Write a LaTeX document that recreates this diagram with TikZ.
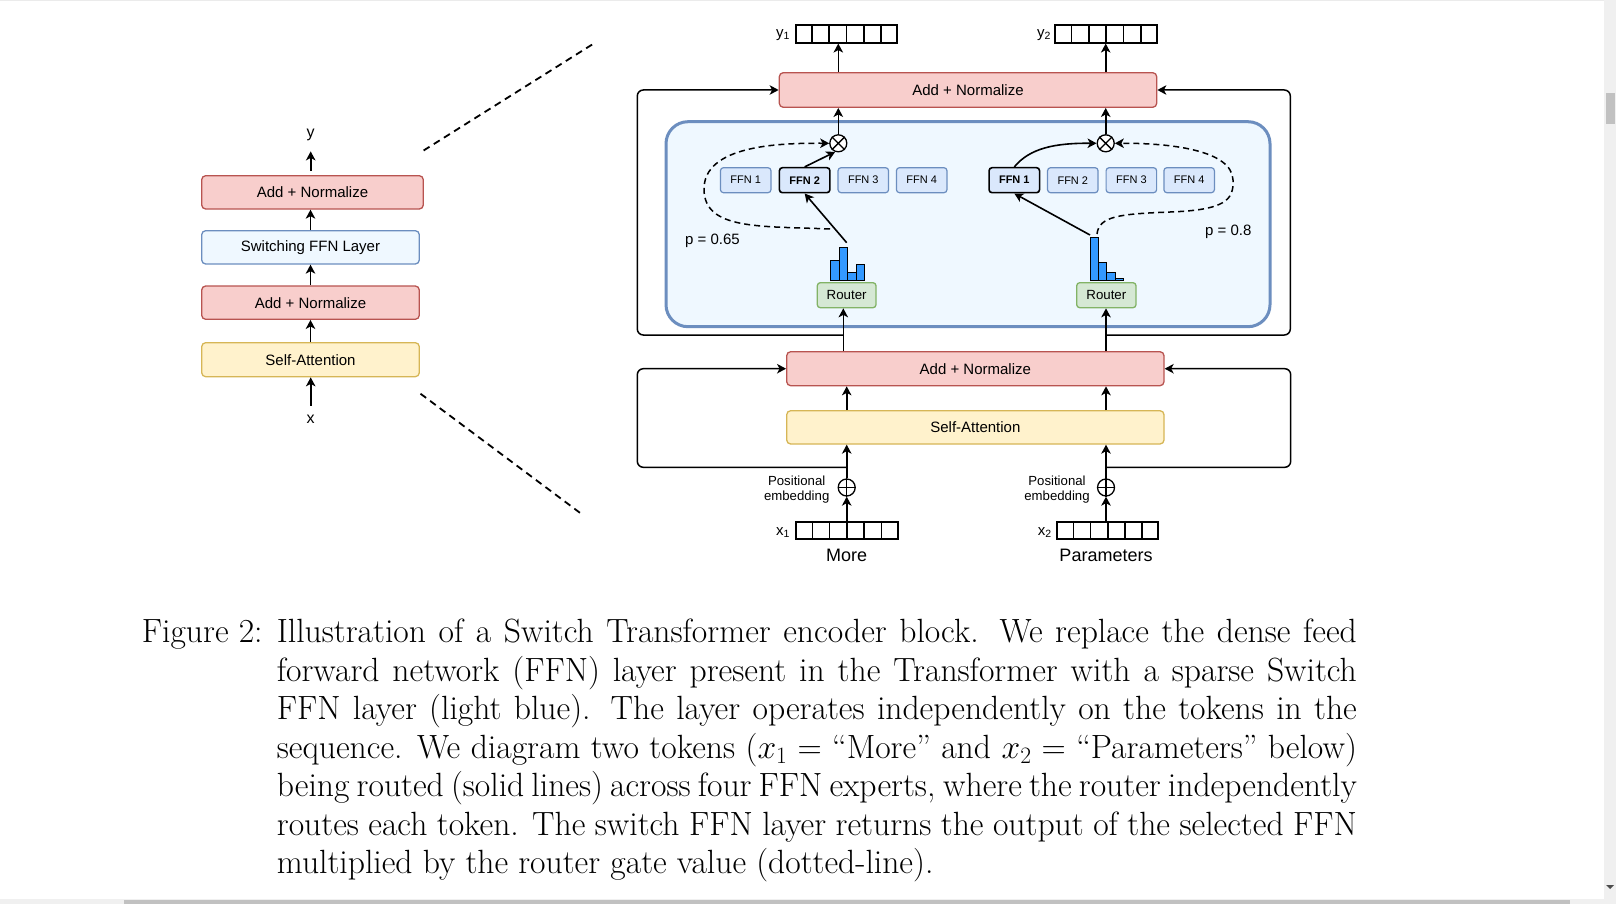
\RequirePackage{fix-cm}
\documentclass[tikz,border=0pt]{standalone}
\usepackage{fontspec}
\newfontfamily\dia{Liberation Sans}
\usetikzlibrary{arrows.meta,calc}
\definecolor{redF}{HTML}{F8CECC}\definecolor{redD}{HTML}{B85450}
\definecolor{bluF}{HTML}{DAE8FC}\definecolor{bluD}{HTML}{6C8EBF}
\definecolor{bluL}{HTML}{EFF8FF}
\definecolor{yelF}{HTML}{FFF2CC}\definecolor{yelD}{HTML}{D6B656}
\definecolor{grnF}{HTML}{D5E8D4}\definecolor{grnD}{HTML}{82B366}
\definecolor{histC}{HTML}{3399FF}
\definecolor{sbTrack}{HTML}{F0F0F0}\definecolor{sbThumb}{HTML}{C1C1C1}
\definecolor{topLine}{HTML}{EBEBEB}
\newcommand{\capfont}{\fontsize{33.6}{38.5}\selectfont}
\begin{document}
\begin{tikzpicture}[x=1pt,y=-1pt,
  box/.style={draw, line width=1.3pt, rounded corners=4pt, inner sep=0pt, font=\dia\fontsize{15}{18}\selectfont},
  redbox/.style={box, fill=redF, draw=redD},
  yelbox/.style={box, fill=yelF, draw=yelD},
  lbluebox/.style={box, fill=bluL, draw=bluD},
  ffn/.style={draw=bluD, fill=bluF, line width=1.2pt, rounded corners=3pt, minimum width=50.5pt, minimum height=25pt, inner sep=0pt, font=\dia\fontsize{11}{13}\selectfont},
  ffnsel/.style={ffn, draw=black, line width=1.6pt, font=\dia\bfseries\fontsize{11}{13}\selectfont},
  router/.style={draw=grnD, fill=grnF, line width=1.3pt, rounded corners=3pt, minimum height=25pt, inner sep=0pt, font=\dia\fontsize{13.3}{15}\selectfont},
  opcirc/.style={circle, draw, fill=white, line width=1.3pt, minimum size=17pt, inner sep=0pt},
  arrbox/.style={draw, fill=white, line width=1.8pt, inner sep=0pt, minimum height=17.6pt},
  lab/.style={inner sep=0pt, font=\dia\fontsize{16}{18}\selectfont},
  tlab/.style={inner sep=0pt, font=\dia\fontsize{15}{18}\selectfont},
  pe/.style={inner sep=0pt, align=center, font=\dia\fontsize{13.2}{15.3}\selectfont},
  word/.style={inner sep=0pt, font=\dia\fontsize{18}{20}\selectfont},
  tip/.style={-{Stealth[length=9pt,width=9.5pt,inset=2.5pt]}},
  arr/.style={line width=1.6pt, tip},
  res/.style={line width=1.5pt, rounded corners=6pt, tip},
  darr/.style={line width=1.5pt, dash pattern=on 6pt off 4pt, tip},
  zoomline/.style={line width=1.8pt, dash pattern=on 7pt off 5pt},
  histbar/.style={draw=black, line width=1pt, fill=histC}
]
\useasboundingbox (0,0) rectangle (1616,904);
\fill[white] (0,0) rectangle (1616,904);
\fill[topLine] (0,0) rectangle (1604,1.5);

% ---------- left column ----------
\node[redbox, minimum width=221.6pt, minimum height=33.3pt] (L4) at (312.5,192.35) {Add + Normalize};
\node[lbluebox, minimum width=217.6pt, minimum height=33.3pt] (L3) at (310.5,247.35) {Switching FFN Layer};
\node[redbox, minimum width=217.6pt, minimum height=33.3pt] (L2) at (310.5,302.65) {Add + Normalize};
\node[yelbox, minimum width=217.6pt, minimum height=34pt] (L1) at (310.5,359.7) {Self-Attention};
\node[lab] (ylab) at (310.7,135.3) {y};
\node[lab] (xlab) at (310.7,419) {x};
\draw[arr, shorten <=9pt] (xlab.north) -- (L1.south -| xlab);
\draw[arr] (L1.north) -- (L2.south);
\draw[arr] (L2.north) -- (L3.south);
\draw[arr] (L3.north) -- (L3.north |- L4.south);
\draw[arr, shorten <=4pt, shorten >=10pt] (L4.north -| ylab) -- (ylab.south);

% zoom lines
\coordinate (zA1) at (423.6,150.5); \coordinate (zA2) at (595.7,42.3);
\coordinate (zB1) at (420.5,393.7); \coordinate (zB2) at (583.3,515.3);
\draw[zoomline] (zA1) -- (zA2);
\draw[zoomline] (zB1) -- (zB2);

% ---------- right diagram ----------
\node[draw=bluD, fill=bluL, line width=3pt, rounded corners=22pt, minimum width=604pt, minimum height=205pt, inner sep=0pt] (SW) at (968,224.2) {};

\node[redbox, minimum width=377.4pt, minimum height=34.6pt] (AN3) at (968,90) {Add + Normalize};
\node[redbox, minimum width=377.3pt, minimum height=34pt] (AN2) at (975.35,368.7) {Add + Normalize};
\node[yelbox, minimum width=377.3pt, minimum height=33.3pt] (SA) at (975.35,427.35) {Self-Attention};

% experts
\node[ffn] (F11) at (745.7,180.2) {FFN 1};
\node[ffnsel] (F12) at (804.65,180.2) {FFN 2};
\node[ffn] (F13) at (863.3,180.2) {FFN 3};
\node[ffn] (F14) at (921.7,180.2) {FFN 4};
\node[ffnsel] (F21) at (1014.3,180.2) {FFN 1};
\node[ffn] (F22) at (1072.8,180.2) {FFN 2};
\node[ffn] (F23) at (1131.35,180.2) {FFN 3};
\node[ffn] (F24) at (1189.15,180.2) {FFN 4};

% routers
\node[router, minimum width=58.7pt] (R1) at (846.65,295.2) {Router};
\node[router, minimum width=59.3pt] (R2) at (1106.35,295.2) {Router};

% histograms
\draw[histbar] (830.7,280) rectangle (839,260);
\draw[histbar] (839,280) rectangle (847.7,247.3);
\draw[histbar] (847.7,280) rectangle (856,272.3);
\draw[histbar] (856,280) rectangle (864.3,264);
\draw[histbar] (1090,280) rectangle (1098.3,237.3);
\draw[histbar] (1098.3,280) rectangle (1106.7,262.3);
\draw[histbar] (1106.7,280) rectangle (1115,272.3);
\draw[histbar] (1115,280) rectangle (1123.3,278.6);

% multiply / add circles
\node[opcirc] (M1) at (838.3,143.3) {};
\node[opcirc] (M2) at (1105.7,143.3) {};
\draw[line width=1.3pt] (M1.north west) -- (M1.south east) (M1.north east) -- (M1.south west);
\draw[line width=1.3pt] (M2.north west) -- (M2.south east) (M2.north east) -- (M2.south west);
\node[opcirc] (P1) at (846.7,487.5) {};
\node[opcirc] (P2) at (1106,487.5) {};
\draw[line width=1.3pt] (P1.north) -- (P1.south) (P1.west) -- (P1.east);
\draw[line width=1.3pt] (P2.north) -- (P2.south) (P2.west) -- (P2.east);

% token arrays
\node[arrbox, minimum width=101.7pt] (Y1) at (846.5,33.85) {};
\node[arrbox, minimum width=102.3pt] (Y2) at (1106.15,33.85) {};
\node[arrbox, minimum width=101.7pt] (X1) at (846.85,530.5) {};
\node[arrbox, minimum width=101pt] (X2) at (1107.8,530.5) {};
\foreach \a in {Y1,Y2,X1,X2}{
  \foreach \i in {1,...,5}{
    \draw[line width=1.6pt] ($(\a.north west)!\i/6!(\a.north east)$) -- ($(\a.south west)!\i/6!(\a.south east)$);
  }
}
\node[tlab, anchor=base east] (y1l) at ($(Y1.west)+(-4.5,3.5)$) {y\textsubscript{1}};
\node[tlab, anchor=base east] (y2l) at ($(Y2.west)+(-3,3.5)$) {y\textsubscript{2}};
\node[tlab, anchor=base east] (x1l) at ($(X1.west)+(-5,4.5)$) {x\textsubscript{1}};
\node[tlab, anchor=base east] (x2l) at ($(X2.west)+(-4.5,4.5)$) {x\textsubscript{2}};
\node[word] (w1) at (846.7,555.5) {More};
\node[word] (w2) at (1106,555.5) {Parameters};
\node[pe] (pe1) at (796.7,489.3) {Positional\\embedding};
\node[pe] (pe2) at (1057,489.3) {Positional\\embedding};

% labels p
\node[tlab, anchor=base west] (pl1) at (685,244.3) {p = 0.65};
\node[tlab, anchor=base west] (pl2) at (1205,235) {p = 0.8};

% vertical flow, token 1
\draw[arr] (X1.north -| P1) -- (P1.south);
\draw[arr] (P1.north) -- (SA.south -| P1);
\draw[arr] (SA.north -| P1) -- (AN2.south -| P1);
\coordinate (r1in) at (843.3,335);
\coordinate (r2in) at (1106,335);
\draw[arr] (AN2.north -| r1in) -- (R1.south -| r1in);
\draw[arr] (M1.north) -- (AN3.south -| M1);
\draw[arr] (AN3.north -| M1) -- (Y1.south -| M1);
% vertical flow, token 2
\draw[arr] (X2.north -| P2) -- (P2.south);
\draw[arr] (P2.north) -- (SA.south -| P2);
\draw[arr] (SA.north -| P2) -- (AN2.south -| P2);
\draw[arr] (AN2.north -| r2in) -- (R2.south -| r2in);
\draw[arr] (M2.north) -- (AN3.south -| M2);
\draw[arr] (AN3.north -| M2) -- (Y2.south -| M2);

% residual connections
\coordinate (b1) at (846.7,467.3);
\coordinate (b2) at (1106,467.3);
\draw[res] (b1) -- ++(-209.4,0) |- (AN2.west);
\draw[res] (b2) -- ++(184.7,0) |- (AN2.east);
\draw[res] (r1in) -- ++(-206,0) |- (AN3.west);
\draw[res] (r2in) -- ++(184.3,0) |- (AN3.east);

% routing (solid)
\coordinate (h1) at (846.7,242.7);
\coordinate (h2) at (1090,235);
\draw[arr] (h1) -- (F12.south);
\draw[arr] (F12.north) -- (M1.250);
\draw[arr] (h2) -- (F21.south);
\draw[arr] (F21.north) .. controls (1030,148) and (1055,143) .. (M2.west);

% gate values (dashed)
\coordinate (d1) at (830,229);
\coordinate (d2) at (1097,234);
\draw[darr] (d1) .. controls (760,226) and (705,230) .. (704,190) .. controls (703,145) and (780,143) .. (M1.west);
\draw[darr] (d2) .. controls (1099,216) and (1120,214) .. (1170,212) .. controls (1225,210) and (1234,200) .. (1233,180) .. controls (1232,150) and (1170,143) .. (M2.east);

% ---------- caption ----------
\node[anchor=base west, inner sep=0pt, font=\capfont] (figlab) at (141.7,642.7) {Figure 2:};
\node[anchor=base west, inner sep=0pt, font=\capfont] (cap) at (276.7,642.7) {\parbox[t]{1080pt}{\capfont
Illustration of a Switch Transformer encoder block.  We replace the dense feed\linebreak
forward network (FFN) layer present in the Transformer with a sparse Switch\linebreak
FFN layer (light blue).  The layer operates independently on the tokens in the\linebreak
sequence.  We diagram two tokens ($x_1 =$ “More” and $x_2 =$ “Parameters” below)\linebreak
being routed (solid lines) across four FFN experts, where the router independently\linebreak
routes each token.  The switch FFN layer returns the output of the selected FFN\linebreak
multiplied by the router gate value (dotted-line).}};

% ---------- window scrollbars ----------
\fill[sbTrack] (1604,0) rectangle (1616,904);
\fill[sbThumb] (1606,93) rectangle (1615,124);
\fill[sbTrack] (0,899) rectangle (1604,904);
\fill[sbThumb] (124,899.5) rectangle (1570,904);
\fill[black!70] (1606,885) -- (1614,885) -- (1610,889) -- cycle;
\end{tikzpicture}
\end{document}
